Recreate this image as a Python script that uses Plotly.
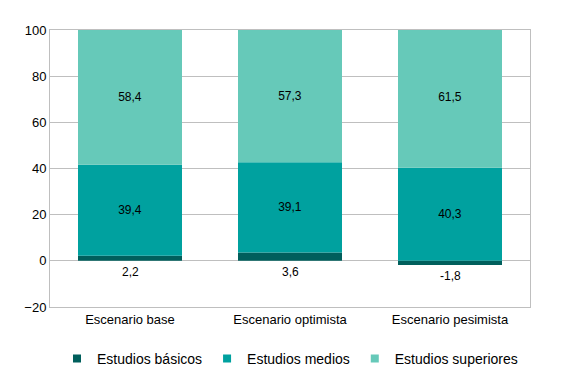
import plotly.graph_objects as go

categories = ["Escenario base", "Escenario optimista", "Escenario pesimista"]
basicos = [2.2, 3.6, -1.8]
medios = [39.4, 39.1, 40.3]
superiores = [58.4, 57.3, 61.5]
y_ticks = [-20, 0, 20, 40, 60, 80, 100]

names = ["Estudios básicos", "Estudios medios", "Estudios superiores"]
colors = ["#005F5C", "#00A19F", "#66C9B9"]

font = "Liberation Sans, Arial, sans-serif"
fig = go.Figure()
fig.add_trace(go.Bar(name=names[0], x=categories, y=basicos, showlegend=False,
                     marker=dict(color=colors[0], line=dict(width=0))))
fig.add_trace(go.Bar(name=names[1], x=categories, y=medios, showlegend=False,
                     marker=dict(color=colors[1], line=dict(width=0)),
                     texttemplate="%{y:.1f}", textposition="inside",
                     insidetextanchor="middle",
                     textfont=dict(color="black", size=12, family=font)))
fig.add_trace(go.Bar(name=names[2], x=categories, y=superiores, showlegend=False,
                     marker=dict(color=colors[2], line=dict(width=0)),
                     texttemplate="%{y:.1f}", textposition="inside",
                     insidetextanchor="middle",
                     textfont=dict(color="black", size=12, family=font)))

# legend entries with small square keys
for n, c in zip(names, colors):
    fig.add_trace(go.Scatter(name=n, x=[None], y=[None], mode="markers",
                             marker=dict(symbol="square", size=8, color=c),
                             showlegend=True))

for c, v in zip(categories, basicos):
    fig.add_annotation(x=c, y=min(0, v), text=f"{v:.1f}".replace(".", ","),
                       showarrow=False, yanchor="top", yshift=-2,
                       font=dict(size=12, color="black", family=font))

fig.update_layout(
    barmode="relative",
    bargap=0.35,
    separators=",.",
    width=559, height=374,
    margin=dict(l=42, r=37, t=22, b=75),
    plot_bgcolor="white", paper_bgcolor="white",
    font=dict(family=font, size=12, color="black"),
    showlegend=True,
    legend=dict(orientation="h", x=0.5, xanchor="center", xref="paper",
                yref="container", y=0.062, yanchor="middle",
                font=dict(size=14, family=font), traceorder="normal", itemwidth=30),
)
fig.update_yaxes(range=[-20, 100], tickvals=y_ticks, showgrid=True, gridcolor="#BFBFBF",
                 gridwidth=1, zeroline=True, zerolinecolor="#BFBFBF", zerolinewidth=1,
                 showline=True, linecolor="#BFBFBF", mirror=True,
                 ticks="outside", ticklen=0, tickfont=dict(size=13, family=font))
fig.update_xaxes(showline=True, linecolor="#BFBFBF", mirror=True, ticks="",
                 tickfont=dict(size=13, family=font))

fig.write_html("out.html")
